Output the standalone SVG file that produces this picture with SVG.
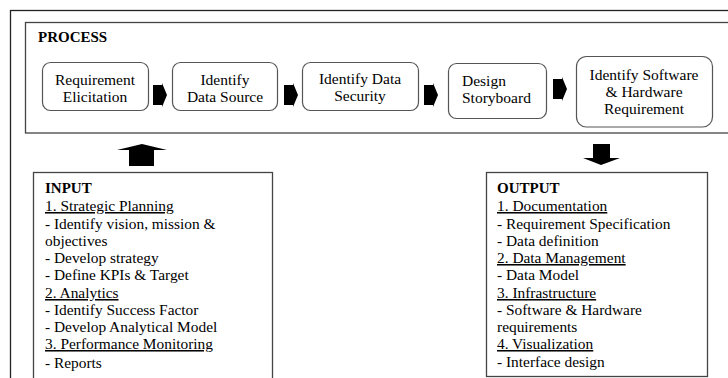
<svg xmlns="http://www.w3.org/2000/svg" width="728" height="378" viewBox="0 0 728 378" font-family="'Liberation Serif', 'DejaVu Serif', serif">
<style>
text{font-family:'Liberation Serif','DejaVu Serif',serif;fill:#000;}
.frame{fill:none;stroke:#222;stroke-width:1.3;}
.pbox{fill:none;stroke:#444;stroke-width:1.3;}
.node{fill:#fff;stroke:#555;stroke-width:1.2;}
.lbl{font-size:15.5px;text-anchor:middle;}
.lft{font-size:15.5px;text-anchor:start;}
.lst{font-size:15.4px;}
.hd{font-size:15px;font-weight:bold;}
.u{text-decoration:underline;}
.arr{fill:#000;}
</style>
<rect width="728" height="378" fill="#fff"/>
<rect class="frame" x="10.5" y="10.5" width="740" height="400"/>
<g id="process">
<rect class="pbox" x="25.5" y="22.5" width="720" height="110.5"/>
<text x="38" y="42" class="hd">PROCESS</text>
</g>
<g id="n1">
<rect class="node" x="42.5" y="62.5" width="106" height="48" rx="8"/>
<text class="lbl" x="95" y="85">Requirement</text>
<text class="lbl" x="95" y="102">Elicitation</text>
</g>
<g id="n2">
<rect class="node" x="172.5" y="62.5" width="105" height="48" rx="8"/>
<text class="lbl" x="225" y="85">Identify</text>
<text class="lbl" x="225" y="102">Data Source</text>
</g>
<g id="n3">
<rect class="node" x="302.5" y="62.5" width="116" height="48" rx="8"/>
<text class="lbl" x="360" y="84">Identify Data</text>
<text class="lbl" x="360" y="101">Security</text>
</g>
<g id="n4">
<rect class="node" x="448.5" y="63.5" width="98" height="55" rx="8"/>
<text class="lft" x="462" y="86">Design</text>
<text class="lft" x="462" y="103">Storyboard</text>
</g>
<g id="n5">
<rect class="node" x="576.5" y="56.5" width="136" height="70.5" rx="10"/>
<text class="lbl" x="644" y="80">Identify Software</text>
<text class="lbl" x="644" y="97">&amp; Hardware</text>
<text class="lbl" x="644" y="114">Requirement</text>
</g>
<g id="input">
<rect class="pbox" x="33.5" y="172.5" width="239" height="220"/>
<text class="hd" x="45" y="193">INPUT</text>
<text class="lst u" x="45" y="211">1. Strategic Planning</text>
<text class="lst" x="45" y="229">- Identify vision, mission &amp;</text>
<text class="lst" x="45" y="246">objectives</text>
<text class="lst" x="45" y="263">- Develop strategy</text>
<text class="lst" x="45" y="280">- Define KPIs &amp; Target</text>
<text class="lst u" x="45" y="298">2. Analytics</text>
<text class="lst" x="45" y="315">- Identify Success Factor</text>
<text class="lst" x="45" y="332">- Develop Analytical Model</text>
<text class="lst u" x="45" y="349">3. Performance Monitoring</text>
<text class="lst" x="45" y="368">- Reports</text>
</g>
<g id="output">
<rect class="pbox" x="486.5" y="172.5" width="221" height="204"/>
<text class="hd" x="497" y="193">OUTPUT</text>
<text class="lst u" x="497" y="211">1. Documentation</text>
<text class="lst" x="497" y="229">- Requirement Specification</text>
<text class="lst" x="497" y="246">- Data definition</text>
<text class="lst u" x="497" y="263">2. Data Management</text>
<text class="lst" x="497" y="280">- Data Model</text>
<text class="lst u" x="497" y="298">3. Infrastructure</text>
<text class="lst" x="497" y="315">- Software &amp; Hardware</text>
<text class="lst" x="497" y="332">requirements</text>
<text class="lst u" x="497" y="349">4. Visualization</text>
<text class="lst" x="497" y="367">- Interface design</text>
</g>
<g id="connectors">
<defs>
<path id="ra" d="M0,-10 H9 V-12 L14,0 L9,12 V10 H0 Z"/>
</defs>
<use href="#ra" class="arr" x="153" y="95"/>
<use href="#ra" class="arr" x="284" y="95"/>
<use href="#ra" class="arr" x="424" y="95"/>
<use href="#ra" class="arr" x="553" y="89"/>
<path class="arr" d="M142,144 L167,150 H154 V166 H129 V150 H117 Z"/>
<path class="arr" d="M593,144 H610 V158 H620 L601,165 L583,158 H593 Z"/>
</g>
</svg>
